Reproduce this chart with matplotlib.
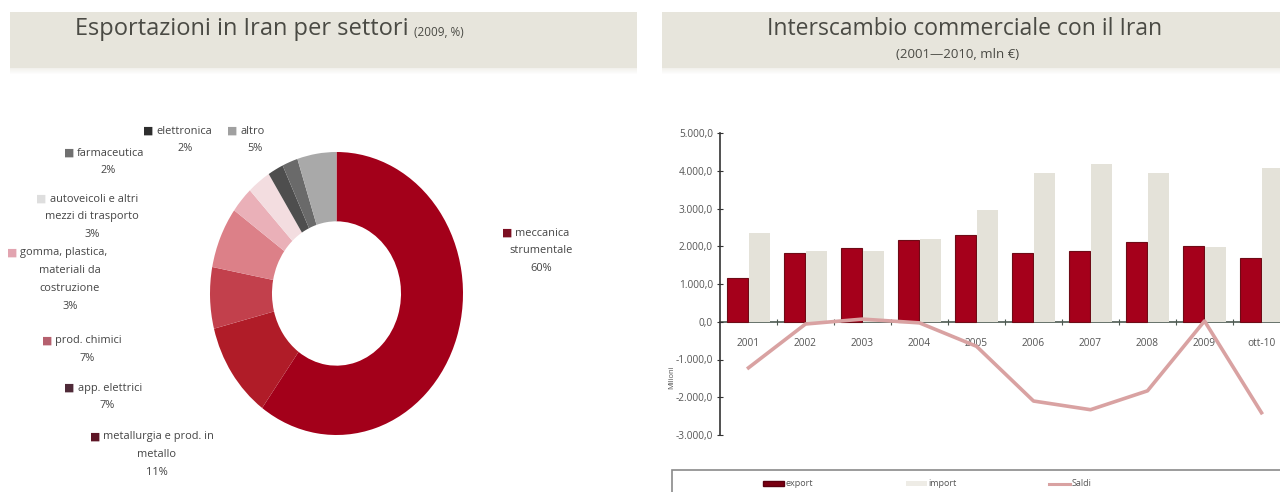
import matplotlib
matplotlib.use("Agg")
import matplotlib.pyplot as plt
from matplotlib.patches import Rectangle, Patch
from matplotlib.lines import Line2D
from matplotlib.ticker import FixedLocator, FuncFormatter
import numpy as np

plt.rcParams['font.family'] = ['Open Sans', 'DejaVu Sans']

# ---------------- data ----------------
sectors = ["meccanica strumentale", "metallurgia e prod. in metallo", "app. elettrici",
           "prod. chimici", "gomma, plastica, materiali da costruzione",
           "autoveicoli e altri mezzi di trasporto", "farmaceutica", "elettronica", "altro"]
shares = [60, 11, 7, 7, 3, 3, 2, 2, 5]
share_labels = ["60%", "11%", "7%", "7%", "3%", "3%", "2%", "2%", "5%"]
label_lines = [["meccanica", "strumentale"], ["metallurgia e prod. in", "metallo"],
               ["app. elettrici"], ["prod. chimici"], ["gomma, plastica,", "materiali da", "costruzione"],
               ["autoveicoli e altri", "mezzi di trasporto"], ["farmaceutica"], ["elettronica"], ["altro"]]
wedge_colors = ["#a3001a", "#b01c28", "#c2404c", "#dc8088", "#eab0b8", "#f3dde0",
                "#4e4e4e", "#6a6a6a", "#a9a9a9"]
key_colors = ["#7c0f22", "#5e1526", "#4f2a38", "#b5606e", "#e2a4b0", "#dedede",
              "#707070", "#2e2e2e", "#a0a0a0"]

years = ["2001", "2002", "2003", "2004", "2005", "2006", "2007", "2008", "2009", "ott-10"]
export = [1170, 1815, 1965, 2170, 2285, 1815, 1875, 2125, 2010, 1685]
imports = [2345, 1885, 1885, 2205, 2965, 3940, 4175, 3930, 1975, 4085]
saldi = [-1220, -60, 70, -30, -650, -2100, -2330, -1830, 20, -2410]
yticks = [-3000, -2000, -1000, 0, 1000, 2000, 3000, 4000, 5000]

W, H = 1280, 492
fig = plt.figure(figsize=(W / 100, H / 100), dpi=100)
fig.patch.set_facecolor("white")


def fx(x):
    return x / W


def fy(y):
    return 1 - y / H


def px_axes(l, t, r, b):
    return fig.add_axes([fx(l), fy(b), (r - l) / W, (b - t) / H])


# ---------------- header bands ----------------
band_col = "#e7e5dc"
for (bx, bwid) in [(10, 627), (662, 630)]:
    fig.add_artist(Rectangle((fx(bx), fy(68)), bwid / W, 56 / H, transform=fig.transFigure,
                             facecolor=band_col, edgecolor="none", zorder=0))
    for i in range(6):
        a = 0.5 * (1 - i / 6)
        fig.add_artist(Rectangle((fx(bx), fy(68 + i + 1)), bwid / W, 1 / H, transform=fig.transFigure,
                                 facecolor=band_col, alpha=a, edgecolor="none", zorder=0))

title_col = "#4a4a44"
fig.canvas.draw()
renderer = fig.canvas.get_renderer()
t1 = fig.text(fx(75), fy(29), "Esportazioni in Iran per settori", fontsize=17, color=title_col,
              ha="left", va="center")
bb = t1.get_window_extent(renderer)
fig.text(bb.x1 / W + 5 / W, fy(32), "(2009, %)", fontsize=8.5, color=title_col, ha="left", va="center")
fig.text(fx(965), fy(29), "Interscambio commerciale con il Iran", fontsize=16.5, color=title_col,
         ha="center", va="center")
fig.text(fx(958), fy(54), "(2001\u20142010, mln \u20ac)", fontsize=9.5, color=title_col,
         ha="center", va="center")

# ---------------- donut ----------------
axd = px_axes(210, 152, 463, 435)
axd.pie(shares, colors=wedge_colors, startangle=90, counterclock=False, radius=1,
        wedgeprops=dict(width=0.49, edgecolor="none"))
axd.set_aspect("auto")
axd.set_xlim(-1, 1)
axd.set_ylim(-1, 1)
axd.axis("off")

# label layout: (group centre x, other lines centre x, first line y)
lab_pos = [(536, 541, 233), (152, 157, 437), (103, 107, 388), (82, 87, 341), (57, 70, 253),
           (87, 92, 199), (104, 108, 153), (178, 185, 131), (246, 255, 131)]
txt_col = "#444444"
fs_lab = 7.9
lh = 17.8
for i, (cx1, cx2, y0) in enumerate(lab_pos):
    lines = label_lines[i]
    tmp = fig.text(fx(cx1), fy(y0), "\u25a0 " + lines[0], fontsize=fs_lab, ha="center", va="center")
    b = tmp.get_window_extent(renderer)
    tmp.remove()
    fig.text(b.x0 / W, fy(y0), "\u25a0", fontsize=fs_lab, color=key_colors[i], ha="left", va="center")
    fig.text(b.x1 / W, fy(y0), lines[0], fontsize=fs_lab, color=txt_col, ha="right", va="center")
    rest = lines[1:] + [share_labels[i]]
    for k, s in enumerate(rest):
        fig.text(fx(cx2), fy(y0 + lh * (k + 1)), s, fontsize=fs_lab, color=txt_col,
                 ha="center", va="center")

# ---------------- bar chart ----------------
axb = px_axes(720, 133, 1290, 435)
x = np.arange(len(years))
bw = 0.37
axb.bar(x - 0.19, export, bw, color="#a5001b", edgecolor="#6e0b16", linewidth=0.8, zorder=2)
axb.bar(x + 0.19, imports, bw, color="#e4e2d9", edgecolor="none", zorder=2)
axb.plot(x, saldi, color="#d9a2a2", linewidth=2.6, zorder=3, solid_joinstyle="round")
axb.set_xlim(-0.5, len(years) - 0.5)
axb.set_ylim(-3000, 5000)
for s in ["top", "right"]:
    axb.spines[s].set_visible(False)
axb.spines["bottom"].set_position(("data", 0))
axb.spines["bottom"].set_color("#4d5a52")
axb.spines["bottom"].set_linewidth(1.2)
axb.spines["bottom"].set_zorder(1)
axb.spines["left"].set_color("#333333")
axb.spines["left"].set_linewidth(1.2)
axb.set_facecolor("none")
axb.yaxis.set_major_locator(FixedLocator(yticks))


def itfmt(v, pos):
    s = f"{abs(v):,.1f}".replace(",", "X").replace(".", ",").replace("X", ".")
    return ("-" if v < 0 else "") + s


axb.yaxis.set_major_formatter(FuncFormatter(itfmt))
axb.tick_params(axis="y", direction="inout", length=4, width=0.8, color="#333333",
                labelsize=7.3, labelcolor="#555555", pad=3)
axb.set_xticks(x)
axb.set_xticklabels(years)
axb.set_xticks(x[:-1] + 0.5, minor=True)
axb.tick_params(axis="x", which="major", length=0, labelsize=7.3, labelcolor="#555555", pad=12)
axb.tick_params(axis="x", which="minor", direction="inout", length=5, width=0.8, color="#4d5a52")
fig.text(fx(672), fy(377), "Milioni", rotation=90, fontsize=5.5, color="#555555", ha="center", va="center")

# legend frame
fig.add_artist(Rectangle((fx(672), fy(500)), 640 / W, 30 / H, transform=fig.transFigure,
                         facecolor="white", edgecolor="#8a8a8a", linewidth=1.2, zorder=1))
handles = [Patch(facecolor="#7a0012", edgecolor="#5a0010"),
           Patch(facecolor="#eeece6", edgecolor="none"),
           Line2D([], [], color="#d9a2a2", linewidth=2.2)]
names = ["export", "import", "Saldi"]
lx = [767, 910, 1053]
for h, n, xx in zip(handles, names, lx):
    lg = fig.legend([h], [n], loc="center left", bbox_to_anchor=(fx(xx - 4), fy(484)),
                    frameon=False, fontsize=6.5, handlelength=2.3, handleheight=0.55,
                    handletextpad=0.15, borderpad=0, borderaxespad=0)
    for t in lg.get_texts():
        t.set_color("#555555")

fig.savefig("out.png", dpi=100, facecolor="white")
